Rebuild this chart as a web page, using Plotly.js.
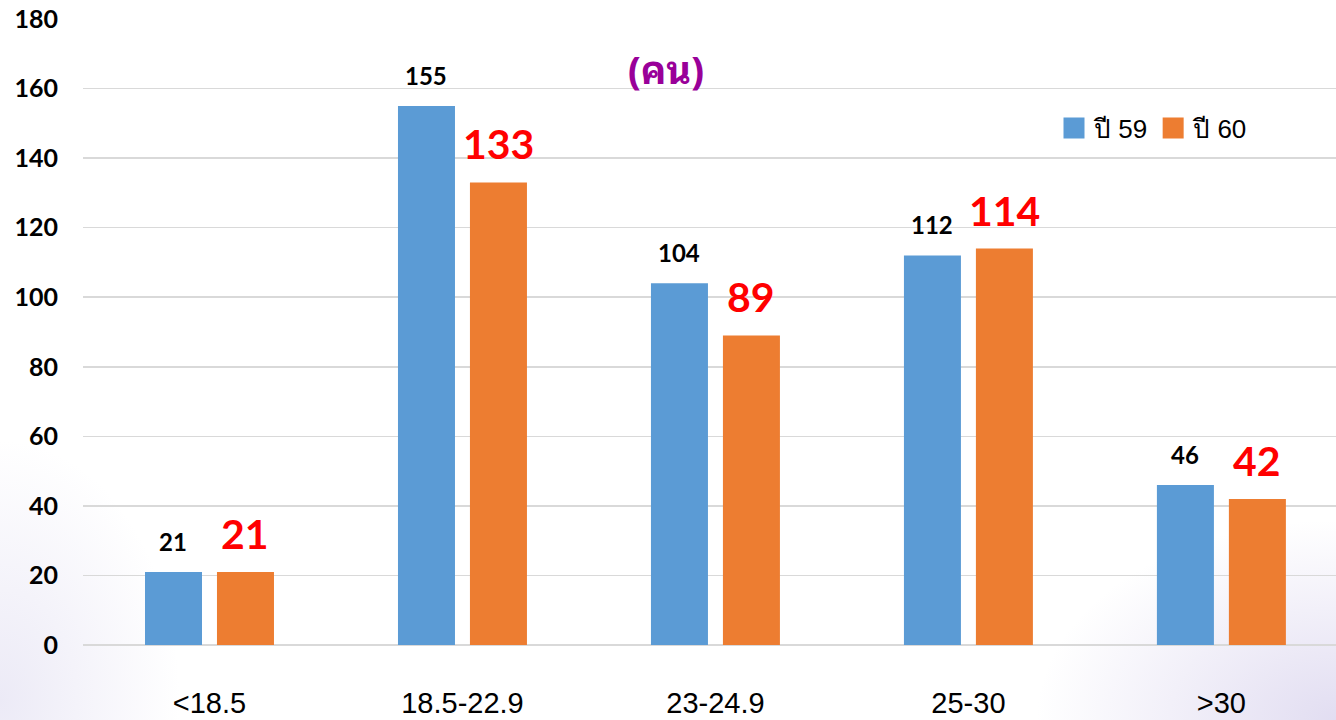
<!DOCTYPE html>
<html>
<head>
<meta charset="utf-8">
<script src="https://cdn.plot.ly/plotly-3.0.1.min.js"></script>
<style>
html,body{margin:0;padding:0;}
body{width:1336px;height:720px;overflow:hidden;
background:
radial-gradient(ellipse 180px 260px at 0px 700px, rgba(200,195,230,0.35), rgba(255,255,255,0) 100%),
radial-gradient(ellipse 300px 200px at 1336px 720px, rgba(190,180,225,0.45), rgba(255,255,255,0) 100%),
#ffffff;}
#chart{width:1336px;height:720px;}
</style>
</head>
<body>
<div id="chart"></div>
<script>
const categories = ["<18.5", "18.5-22.9", "23-24.9", "25-30", ">30"];
const year59 = [21, 155, 104, 112, 46];
const year60 = [21, 133, 89, 114, 42];
const seriesNames = ["ปี 59", "ปี 60"];
const unitLabel = "(คน)";
const yTicks = [0, 20, 40, 60, 80, 100, 120, 140, 160, 180];

const traces = [
  {type: "bar", name: seriesNames[0], x: categories, y: year59,
   marker: {color: "#5B9BD5"}, hoverinfo: "x+y"},
  {type: "bar", name: seriesNames[1], x: categories, y: year60,
   marker: {color: "#ED7D31"}, hoverinfo: "x+y"}
];

const annotations = [];
categories.forEach((c, i) => {
  annotations.push({x: c, y: year59[i], xref: "x", yref: "y", text: String(year59[i]),
    showarrow: false, xshift: -36, yanchor: "bottom", yshift: 14,
    font: {family: "Lato, 'Open Sans', sans-serif", size: 24, color: "#000000", weight: "bold"}});
  annotations.push({x: c, y: year60[i], xref: "x", yref: "y", text: String(year60[i]),
    showarrow: false, xshift: 36, yanchor: "bottom", yshift: 12,
    font: {family: "Lato, 'Open Sans', sans-serif", size: 41, color: "#FF0000", weight: "bold"}});
});
annotations.push({x: 666, y: 66, xref: "paper", yref: "paper", text: "<b>" + unitLabel + "</b>",
  showarrow: false, yanchor: "middle",
  font: {family: "'Noto Sans Thai Looped', 'Noto Serif Thai', Tahoma, 'Noto Sans', sans-serif", size: 38, color: "#990099"}});

const layout = {
  width: 1336, height: 720,
  margin: {l: 83, r: 0, t: 19, b: 75, pad: 0},
  paper_bgcolor: "rgba(0,0,0,0)",
  plot_bgcolor: "rgba(0,0,0,0)",
  barmode: "group",
  bargap: 0.431,
  bargroupgap: 0.208,
  showlegend: true,
  legend: {orientation: "h", x: 1054, y: 128, xanchor: "left", yanchor: "middle",
    font: {family: "'Liberation Sans', Arial, sans-serif", size: 26, color: "#000000"},
    bgcolor: "rgba(0,0,0,0)", itemwidth: 30, traceorder: "normal"},
  xaxis: {type: "category", range: [-0.5, 4.453], showgrid: false, zeroline: false,
    showline: false, ticks: "", ticklabelstandoff: 38,
    tickfont: {family: "'Liberation Sans', Arial, sans-serif", size: 29, color: "#000000"}},
  yaxis: {range: [0, 180], tickvals: yTicks, showgrid: true, gridcolor: "#D9D9D9", gridwidth: 1.5,
    zeroline: true, zerolinecolor: "#D9D9D9", zerolinewidth: 1.5, showline: false, ticks: "",
    ticklabelstandoff: 24,
    tickfont: {family: "Lato, 'Open Sans', sans-serif", size: 25, color: "#000000", weight: "bold"}},
  annotations: annotations
};

// convert legend / unit label pixel positions to paper fractions
const plotW = 1336 - 83, plotH = 720 - 19 - 75;
layout.legend.x = (layout.legend.x - 83) / plotW;
layout.legend.y = 1 - (layout.legend.y - 19) / plotH;
const ua = annotations[annotations.length - 1];
ua.x = (ua.x - 83) / plotW;
ua.y = 1 - (ua.y - 19) / plotH;

Plotly.newPlot("chart", traces, layout, {displayModeBar: false, staticPlot: true}).then(gd => {
  // enlarge legend swatches to match the reference's square markers
  gd.querySelectorAll(".legend .legendpoints path").forEach(p => {
    const t = p.getAttribute("transform") || "";
    p.setAttribute("transform", t + " scale(1.75)");
  });
});
</script>
</body>
</html>
